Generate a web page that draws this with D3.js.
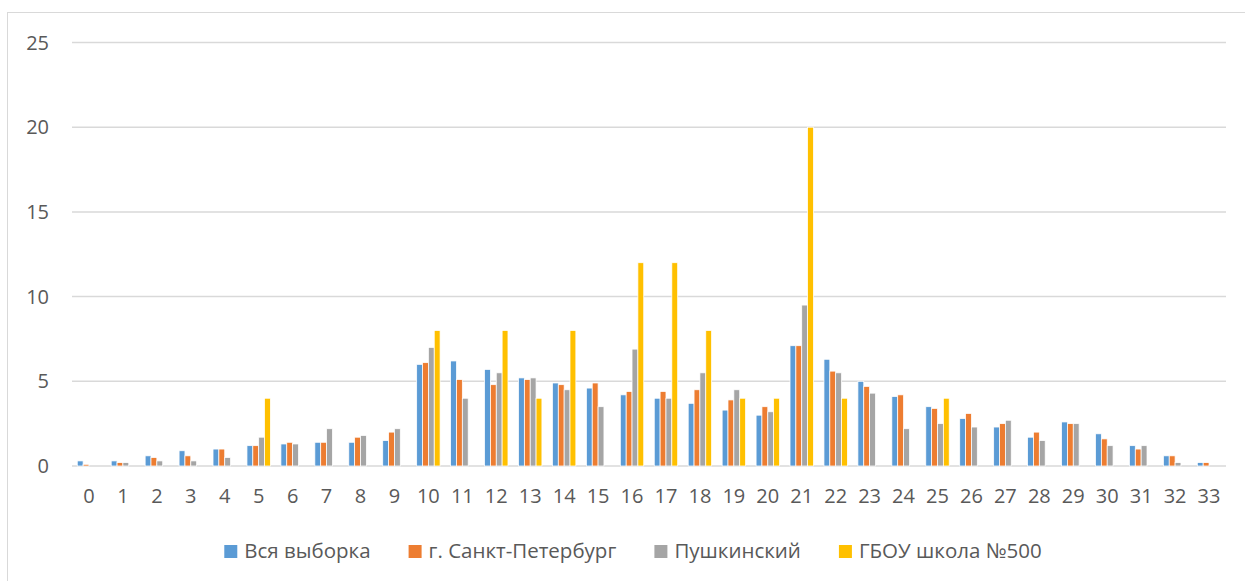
<!DOCTYPE html>
<html>
<head>
<meta charset="utf-8">
<script src="https://cdn.jsdelivr.net/npm/d3@7"></script>
<style>
  html, body { margin: 0; padding: 0; background: #fff; }
  svg { display: block; }
  text { font-family: "Open Sans", "Noto Sans", sans-serif; fill: #595959; }
</style>
</head>
<body>
<svg id="chart" width="1245" height="581"></svg>
<script>
// Categories (score values 0..33)
const categories = d3.range(0, 34).map(String);

// Series names
const seriesNames = ["Вся выборка", "г. Санкт-Петербург", "Пушкинский", "ГБОУ школа №500"];
const seriesColors = ["#5b9bd5", "#ed7d31", "#a5a5a5", "#ffc000"];

// Share of participants, %, per score
const allSample = [0.3, 0.3, 0.6, 0.9, 1.0, 1.2, 1.3, 1.4, 1.4, 1.5, 6.0, 6.2, 5.7, 5.2, 4.9, 4.6, 4.2, 4.0, 3.7, 3.3, 3.0, 7.1, 6.3, 5.0, 4.1, 3.5, 2.8, 2.3, 1.7, 2.6, 1.9, 1.2, 0.6, 0.2];
const spb       = [0.1, 0.2, 0.5, 0.6, 1.0, 1.2, 1.4, 1.4, 1.7, 2.0, 6.1, 5.1, 4.8, 5.1, 4.8, 4.9, 4.4, 4.4, 4.5, 3.9, 3.5, 7.1, 5.6, 4.7, 4.2, 3.4, 3.1, 2.5, 2.0, 2.5, 1.6, 1.0, 0.6, 0.2];
const pushkin   = [0.0, 0.2, 0.3, 0.3, 0.5, 1.7, 1.3, 2.2, 1.8, 2.2, 7.0, 4.0, 5.5, 5.2, 4.5, 3.5, 6.9, 4.0, 5.5, 4.5, 3.2, 9.5, 5.5, 4.3, 2.2, 2.5, 2.3, 2.7, 1.5, 2.5, 1.2, 1.2, 0.2, 0.0];
const school500 = [0, 0, 0, 0, 0, 4, 0, 0, 0, 0, 8, 0, 8, 4, 8, 0, 12, 12, 8, 4, 4, 20, 4, 0, 0, 4, 0, 0, 0, 0, 0, 0, 0, 0];

// Y axis ticks
const yTicks = [0, 5, 10, 15, 20, 25];

const seriesValues = [allSample, spb, pushkin, school500];

const svg = d3.select("#chart");

// Outer chart frame
svg.append("rect")
  .attr("x", 7.5).attr("y", 12.5)
  .attr("width", 1300).attr("height", 700)
  .attr("fill", "none")
  .attr("stroke", "#d9d9d9")
  .attr("stroke-width", 1);

const plot = { left: 72, right: 1226, top: 42.5, bottom: 466 };

const x0 = d3.scaleBand()
  .domain(categories)
  .range([plot.left, plot.right])
  .paddingInner(0.31)
  .paddingOuter(0.155);

const x1 = d3.scaleBand()
  .domain(d3.range(seriesNames.length))
  .range([0, x0.bandwidth()]);

const y = d3.scaleLinear()
  .domain([0, 25])
  .range([plot.bottom, plot.top]);

// Horizontal gridlines
svg.append("g")
  .selectAll("line")
  .data(yTicks)
  .join("line")
  .attr("x1", plot.left).attr("x2", plot.right)
  .attr("y1", d => y(d)).attr("y2", d => y(d))
  .attr("stroke", "#d9d9d9")
  .attr("stroke-width", 1.5);

// Y tick labels
svg.append("g")
  .selectAll("text")
  .data(yTicks)
  .join("text")
  .attr("x", 49)
  .attr("y", d => y(d) + 7)
  .attr("text-anchor", "end")
  .style("font-size", "20px")
  .text(d => d);

// Bars
const groups = svg.append("g")
  .selectAll("g")
  .data(categories)
  .join("g")
  .attr("transform", d => `translate(${x0(d)},0)`);

groups.selectAll("rect")
  .data((c, i) => seriesValues.map((vals, s) => ({ s, v: vals[i] })).filter(d => d.v > 0))
  .join("rect")
  .attr("x", d => x1(d.s))
  .attr("width", x1.bandwidth())
  .attr("y", d => y(d.v))
  .attr("height", d => y(0) - y(d.v))
  .attr("fill", d => seriesColors[d.s])
  .attr("stroke", "#ffffff")
  .attr("stroke-width", 0.75);

// X category labels
svg.append("g")
  .selectAll("text")
  .data(categories)
  .join("text")
  .attr("x", d => x0(d) + x0.bandwidth() / 2)
  .attr("y", 503)
  .attr("text-anchor", "middle")
  .style("font-size", "20px")
  .text(d => d);

// Legend
const legend = svg.append("g");
const legendItems = legend.selectAll("g")
  .data(seriesNames)
  .join("g");

legendItems.append("rect")
  .attr("x", 0).attr("y", 545)
  .attr("width", 13).attr("height", 13)
  .attr("fill", (d, i) => seriesColors[i]);

legendItems.append("text")
  .attr("x", 20)
  .attr("y", 558)
  .style("font-size", "20.5px")
  .text(d => d);

// Lay out items left to right, centred
const gap = 38;
let widths = [];
legendItems.each(function () { widths.push(this.getBBox().width); });
const total = d3.sum(widths) + gap * (widths.length - 1);
let cx = 633 - total / 2;
legendItems.attr("transform", (d, i) => {
  const t = `translate(${cx},0)`;
  cx += widths[i] + gap;
  return t;
});
</script>
</body>
</html>
